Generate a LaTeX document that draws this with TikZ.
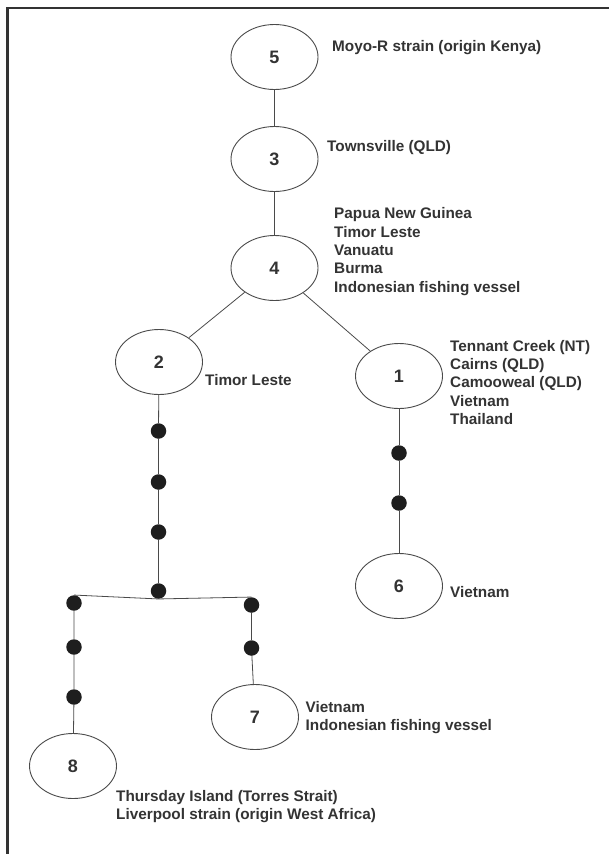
\documentclass[tikz,border=0pt]{standalone}
\usepackage{fontspec}
\setmainfont{Liberation Sans}
\usetikzlibrary{shapes.geometric}
\definecolor{linegrey}{HTML}{4A4A4A}
\definecolor{txtgrey}{HTML}{333333}
\definecolor{dotblack}{HTML}{1E1E1E}

\begin{document}
\begin{tikzpicture}[x=1pt,y=-1pt,
  hap/.style={ellipse,draw=linegrey,line width=0.9pt,minimum width=87pt,minimum height=65pt,inner sep=0pt,
    font=\fontsize{18}{20}\selectfont\bfseries,text=txtgrey},
  blob/.style={circle,fill=dotblack,minimum size=15.5pt,inner sep=0pt},
  place/.style={anchor=west,align=left,inner sep=0pt,font=\fontsize{15.3}{18.3}\selectfont\bfseries,text=txtgrey},
  link/.style={draw=linegrey,line width=0.8pt}]
\useasboundingbox (0,0) rectangle (609,854);
\draw[line width=2.2pt,draw=black!80] (7.5,854) -- (7.5,8) -- (609,8);

% haplotypes
\node[hap] (n5) at (274.5,57) {5};
\node[hap] (n3) at (274.5,159) {3};
\node[hap] (n4) at (274.5,268) {4};
\node[hap] (n2) at (159,362) {2};
\node[hap] (n1) at (399,376) {1};
\node[hap] (n6) at (399,586) {6};
\node[hap] (n7) at (255,717) {7};
\node[hap] (n8) at (73,766) {8};

% missing steps
\node[blob] (a1) at (158.5,431) {};
\node[blob] (a2) at (158.5,482) {};
\node[blob] (a3) at (158.5,532) {};
\node[blob] (j) at (158.5,591) {};
\node[blob] (l1) at (74,603) {};
\node[blob] (l2) at (74,647) {};
\node[blob] (l3) at (74,697) {};
\node[blob] (r1) at (251.5,605) {};
\node[blob] (r2) at (251.5,648) {};
\node[blob] (b1) at (399,453) {};
\node[blob] (b2) at (399,503) {};

\draw[link] (n5) -- (n3);
\draw[link] (n3) -- (n4);
\draw[link] (n4) -- (n2);
\draw[link] (n4) -- (n1);
\draw[link] (n2) -- (a1) -- (a2) -- (a3) -- (j);
\draw[link] (l1.north) -- (j.south) -- (r1.north);
\draw[link] (l1) -- (l2) -- (l3) -- (n8);
\draw[link] (r1) -- (r2) -- (n7);
\draw[link] (n1) -- (b1) -- (b2) -- (n6);

% origins
\node[place] (t5) at (332,48) {Moyo-R strain (origin Kenya)};
\node[place] (t3) at (327,148) {Townsville (QLD)};
\node[place] (t4) at (334,251.5) {Papua New Guinea\\Timor Leste\\Vanuatu\\Burma\\Indonesian fishing vessel};
\node[place] (t2) at (205,380) {Timor Leste};
\node[place] (t1) at (450,382.5) {Tennant Creek (NT)\\Cairns (QLD)\\Camooweal (QLD)\\Vietnam\\Thailand};
\node[place] (t6) at (450,592) {Vietnam};
\node[place] (t7) at (305.5,717.5) {Vietnam\\Indonesian fishing vessel};
\node[place] (t8) at (116,806.5) {Thursday Island (Torres Strait)\\Liverpool strain (origin West Africa)};
\end{tikzpicture}
\end{document}
